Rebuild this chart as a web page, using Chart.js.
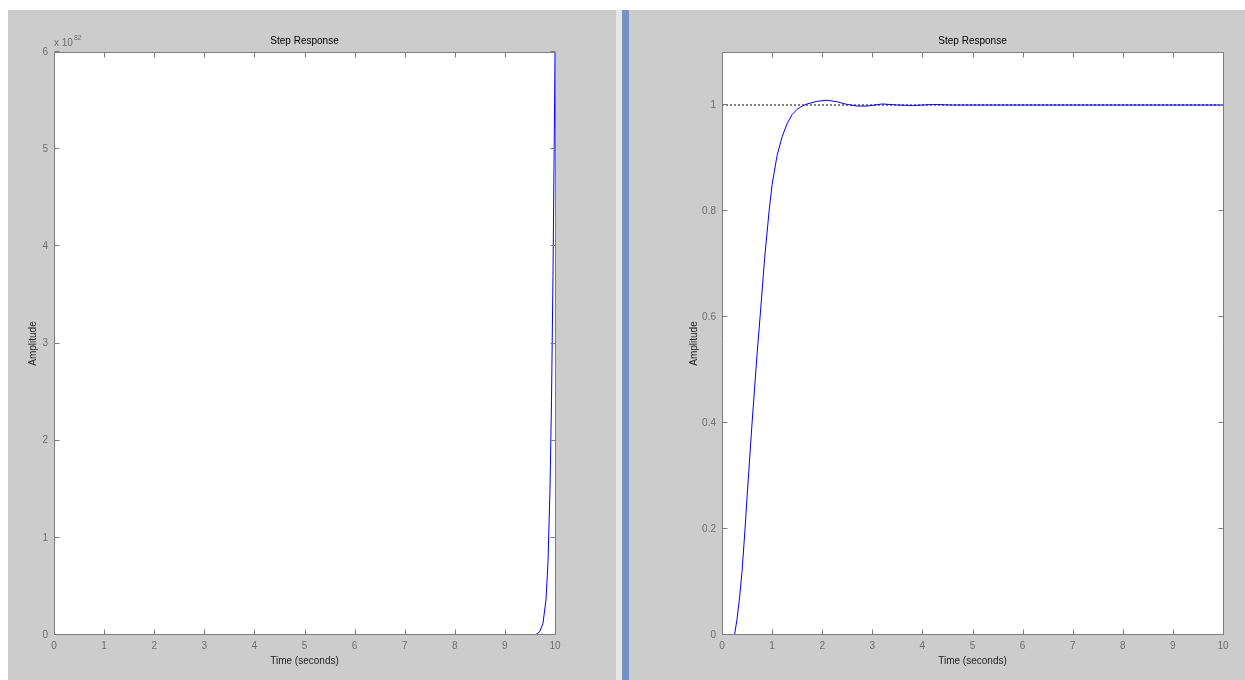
<!DOCTYPE html>
<html>
<head>
<meta charset="utf-8">
<script src="https://cdn.jsdelivr.net/npm/chart.js@4/dist/chart.umd.min.js"></script>
<style>
  html, body { margin: 0; padding: 0; background: #ffffff; width: 1245px; height: 680px; overflow: hidden; }
  .panel { position: absolute; background: #cccccc; }
  #pLeft { left: 8px; top: 10px; width: 608px; height: 670px; }
  #pRight { left: 629px; top: 10px; width: 616px; height: 670px; }
  #sepLight { position: absolute; left: 616px; top: 10px; width: 6px; height: 670px; background: #e6e6e6; }
  #sepBlue { position: absolute; left: 622px; top: 10px; width: 7px; height: 670px; background: #7393c3; }
  canvas { display: block; }
</style>
</head>
<body>
<div class="panel" id="pLeft"><canvas id="cLeft" width="608" height="670"></canvas></div>
<div id="sepLight"></div>
<div id="sepBlue"></div>
<div class="panel" id="pRight"><canvas id="cRight" width="616" height="670"></canvas></div>
<script>
// Unstable loop: amplitude in units of 10^82
const leftTime = [0, 9.6, 9.64, 9.7, 9.76, 9.82, 9.86, 9.9, 9.93, 9.96, 9.98, 10];
const leftAmp  = [0, 0, 0.01, 0.04, 0.12, 0.36, 0.75, 1.5, 2.4, 3.7, 4.8, 6.0];
const leftExponent = '82';
const leftYTicks = [0, 1, 2, 3, 4, 5, 6];

// Stabilised loop
const rightTime = [0, 0.25, 0.3, 0.35, 0.4, 0.46, 0.5, 0.6, 0.7, 0.76, 0.85, 0.94, 1.0, 1.1, 1.2, 1.3, 1.4, 1.5, 1.6, 1.7, 1.9, 2.1, 2.3, 2.5, 2.7, 2.9, 3.2, 3.5, 3.8, 4.2, 4.6, 10];
const rightAmp  = [0, 0, 0.03, 0.07, 0.12, 0.2, 0.26, 0.4, 0.53, 0.6, 0.71, 0.8, 0.85, 0.905, 0.94, 0.965, 0.982, 0.992, 0.998, 1.002, 1.007, 1.009, 1.006, 1.001, 0.998, 0.998, 1.002, 1.0, 0.999, 1.001, 1.0, 1.0];
const rightYTicks = [0, 0.2, 0.4, 0.6, 0.8, 1];
const steadyState = 1;

const xTicks = [0, 1, 2, 3, 4, 5, 6, 7, 8, 9, 10];
const titleText = 'Step Response';
const xTitle = 'Time (seconds)';
const yTitle = 'Amplitude';

const FONT = 'Liberation Sans, Arial, Helvetica, sans-serif';
const AXIS_GRAY = '#7d7d7d';
const LABEL_GRAY = '#6e6e6e';

function pts(xs, ys) { return xs.map((x, i) => ({ x: x, y: ys[i] })); }

// White axes background, then box, inward ticks and plot title on top of the traces
const boxPlugin = {
  id: 'matlabBox',
  beforeDatasetsDraw(chart) {
    const { ctx, chartArea: a } = chart;
    ctx.save();
    ctx.fillStyle = '#ffffff';
    ctx.fillRect(a.left, a.top, a.right - a.left, a.bottom - a.top);
    ctx.restore();
  },
  afterDatasetsDraw(chart, args, opts) {
    const { ctx, chartArea: a, scales } = chart;
    const xs = scales.x, ys = scales.y;
    ctx.save();
    ctx.strokeStyle = AXIS_GRAY;
    ctx.lineWidth = 1;
    ctx.beginPath();
    const L = Math.round(a.left) + 0.5, R = Math.round(a.right) + 0.5;
    const T = Math.round(a.top) + 0.5, B = Math.round(a.bottom) - 0.5;
    ctx.rect(L, T, R - L, B - T);
    const tl = 5;
    xs.ticks.forEach(t => {
      const px = Math.round(xs.getPixelForValue(t.value)) + 0.5;
      ctx.moveTo(px, B); ctx.lineTo(px, B - tl);
      ctx.moveTo(px, T); ctx.lineTo(px, T + tl);
    });
    ys.ticks.forEach(t => {
      const py = Math.round(ys.getPixelForValue(t.value)) - 0.5;
      ctx.moveTo(L, py); ctx.lineTo(L + tl, py);
      ctx.moveTo(R, py); ctx.lineTo(R - tl, py);
    });
    ctx.stroke();

    ctx.fillStyle = '#000000';
    ctx.font = '10px ' + FONT;
    ctx.textAlign = 'center';
    ctx.textBaseline = 'middle';
    ctx.fillText(titleText, (a.left + a.right) / 2, a.top - 11);

    if (opts.exponent) {
      ctx.fillStyle = LABEL_GRAY;
      ctx.textAlign = 'left';
      ctx.font = '10px ' + FONT;
      ctx.fillText('x 10', a.left, a.top - 9);
      const w = ctx.measureText('x 10').width;
      ctx.font = '7px ' + FONT;
      ctx.fillText(opts.exponent, a.left + w + 1, a.top - 14);
    }
    ctx.restore();
  }
};

function makeChart(id, cfg) {
  return new Chart(document.getElementById(id), {
    type: 'line',
    data: { datasets: cfg.datasets },
    options: {
      responsive: false,
      animation: false,
      events: [],
      layout: { padding: { top: 42, right: cfg.padRight, left: 0, bottom: 0 } },
      plugins: {
        legend: { display: false },
        tooltip: { enabled: false },
        matlabBox: { exponent: cfg.exponent || null }
      },
      elements: { point: { radius: 0 }, line: { tension: 0, borderWidth: 1 } },
      scales: {
        x: {
          type: 'linear', min: 0, max: 10,
          afterBuildTicks: s => { s.ticks = xTicks.map(v => ({ value: v })); },
          afterFit: s => { s.height = 45; },
          grid: { display: false, drawTicks: false },
          border: { display: false },
          ticks: { color: LABEL_GRAY, font: { family: FONT, size: 10 }, padding: 5, maxRotation: 0, autoSkip: false },
          title: { display: true, text: xTitle, color: '#222222', font: { family: FONT, size: 10 }, padding: { top: 0, bottom: 13 } }
        },
        y: {
          type: 'linear', min: 0, max: cfg.yMax,
          afterBuildTicks: s => { s.ticks = cfg.yTicks.map(v => ({ value: v })); },
          afterFit: s => { s.width = cfg.yWidth; },
          grid: { display: false, drawTicks: false },
          border: { display: false },
          ticks: { color: LABEL_GRAY, font: { family: FONT, size: 10 }, padding: 6, autoSkip: false,
                   callback: v => String(Math.round(v * 10) / 10) },
          title: { display: true, text: yTitle, color: '#222222', font: { family: FONT, size: 10 }, padding: { top: cfg.yTitlePad, bottom: 0 } }
        }
      }
    },
    plugins: [boxPlugin]
  });
}

makeChart('cLeft', {
  padRight: 61, yWidth: 46, yTitlePad: 19, yMax: 6, yTicks: leftYTicks, exponent: leftExponent,
  datasets: [
    { data: pts(leftTime, leftAmp), borderColor: '#0000ff', parsing: false }
  ]
});

makeChart('cRight', {
  padRight: 22, yWidth: 93, yTitlePad: 59, yMax: 1.1, yTicks: rightYTicks,
  datasets: [
    { data: pts(rightTime, rightAmp), borderColor: '#0000ff', parsing: false, order: 0 },
    { data: [{ x: 0, y: steadyState }, { x: 10, y: steadyState }], borderColor: '#000000', borderDash: [2, 2], parsing: false, order: 1 }
  ]
});
</script>
</body>
</html>
